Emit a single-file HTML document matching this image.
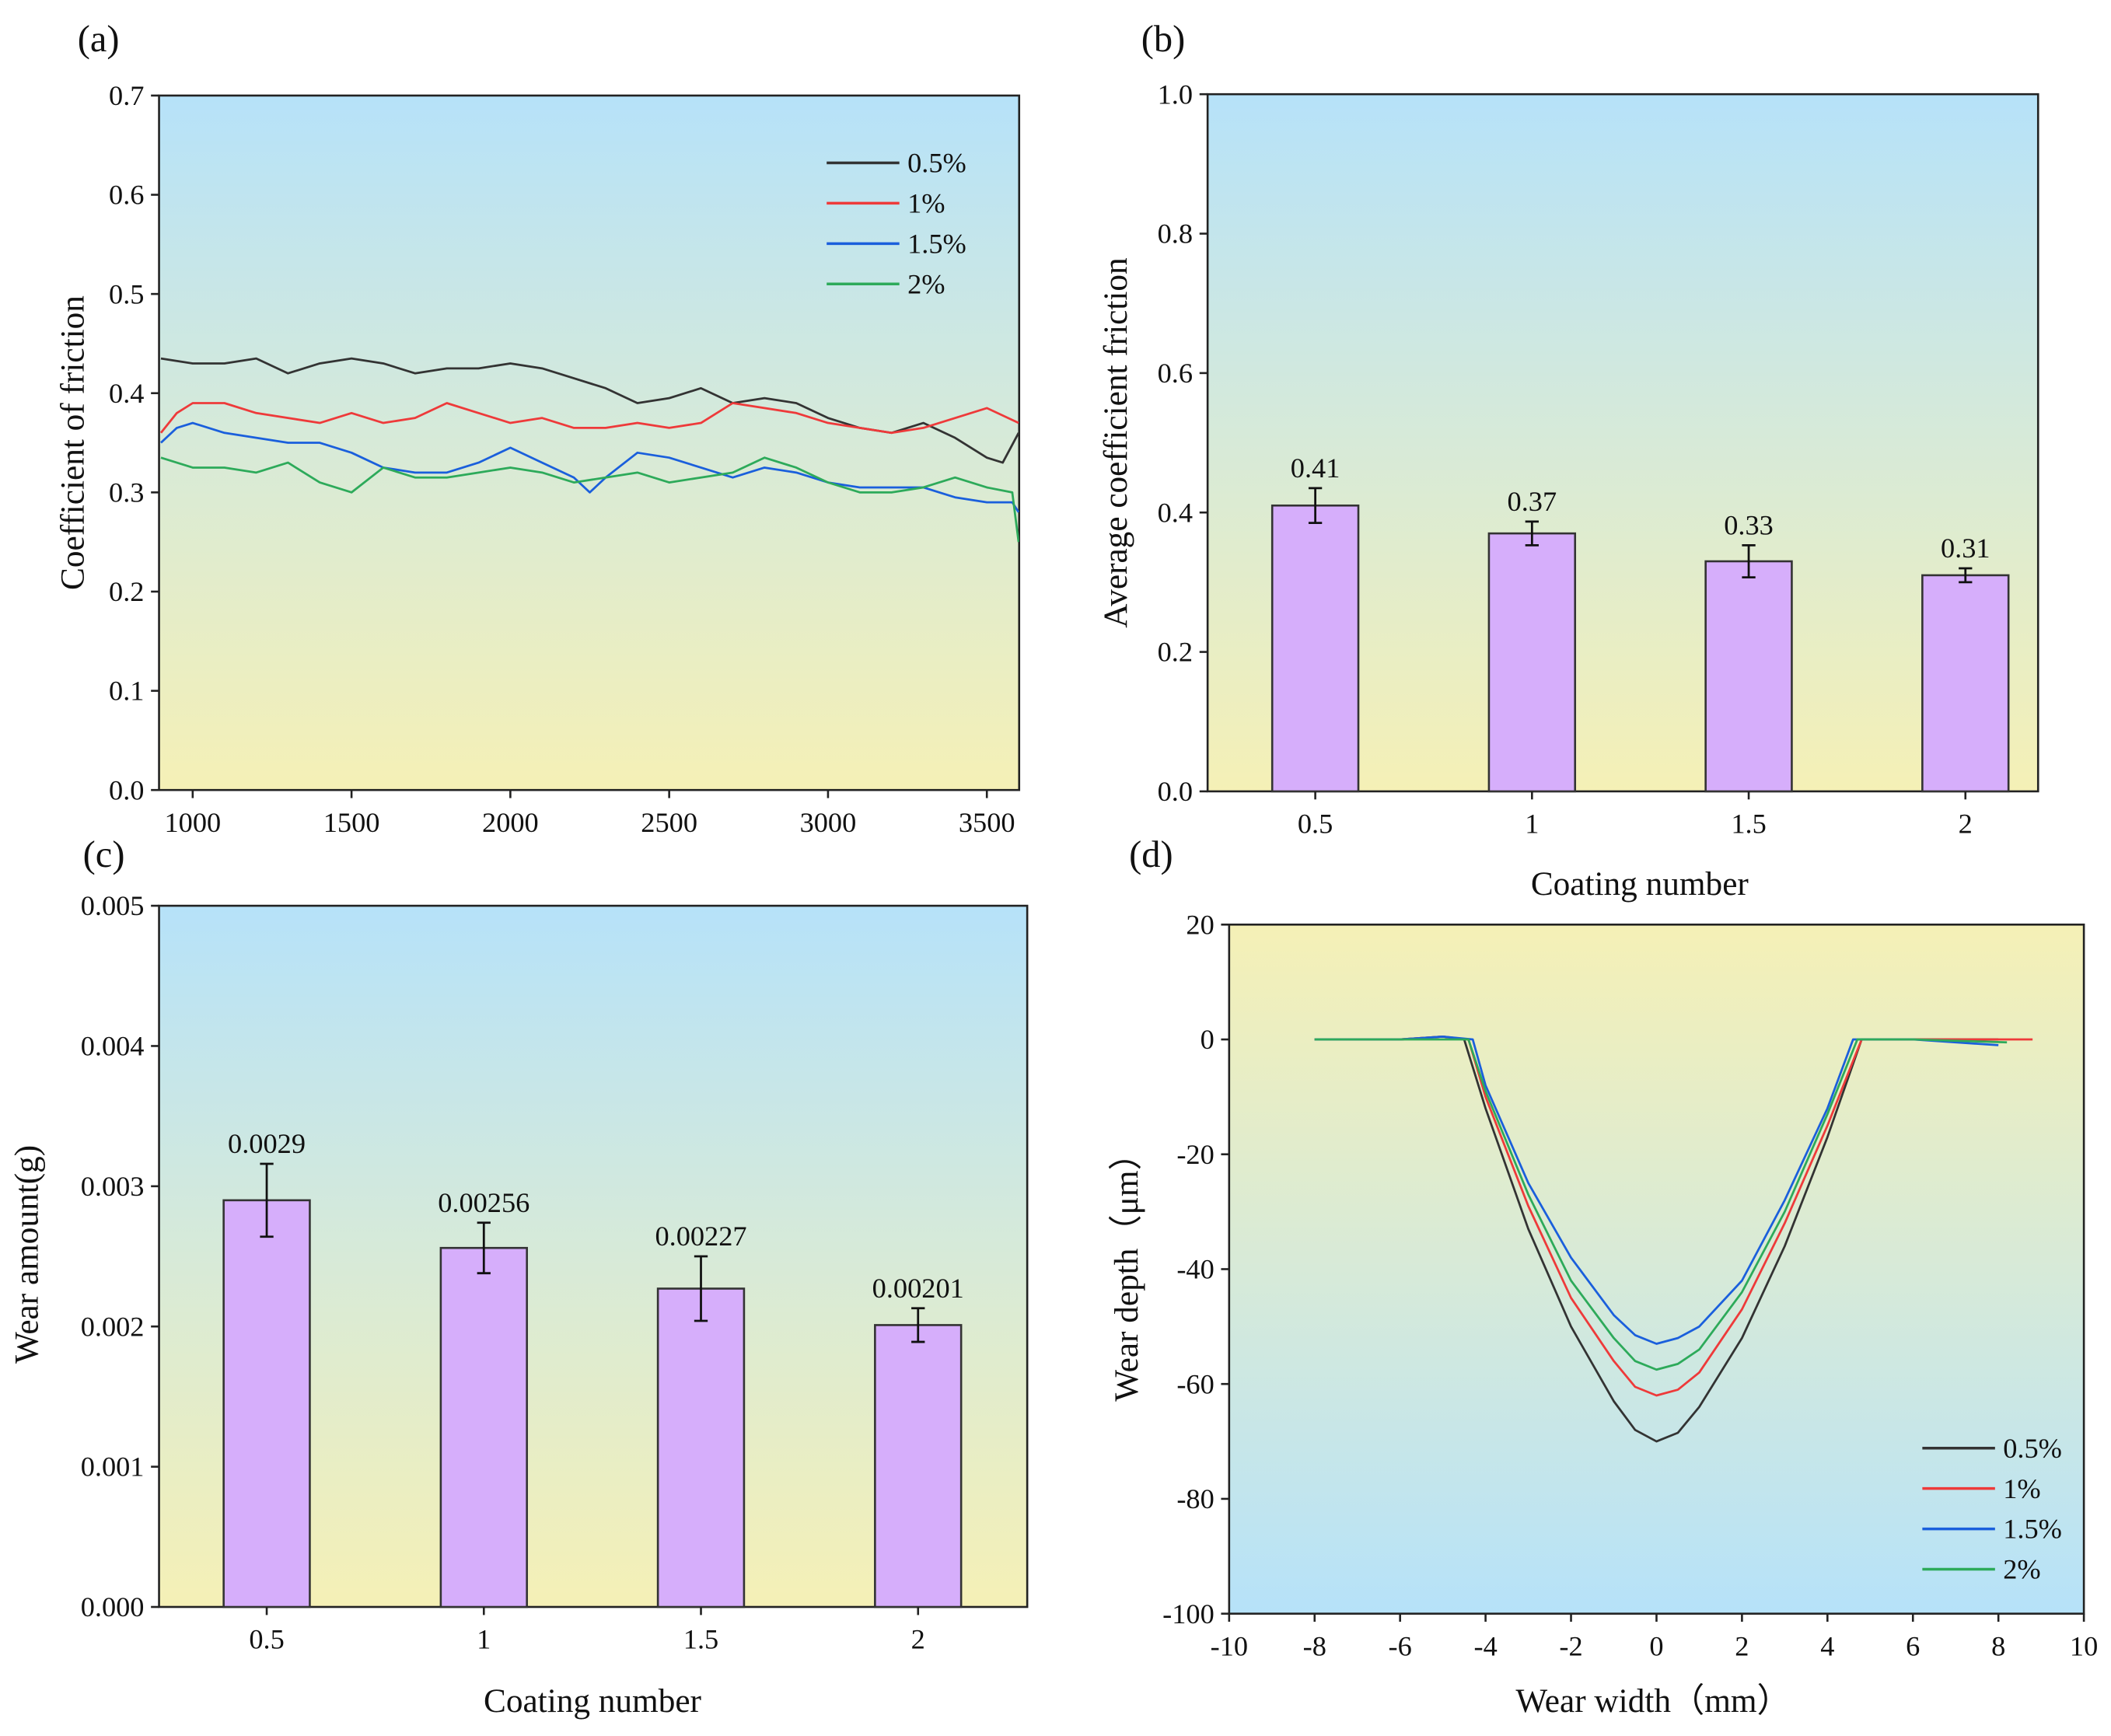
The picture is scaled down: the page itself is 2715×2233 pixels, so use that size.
<!DOCTYPE html>
<html><head><meta charset="utf-8"><style>
html,body{margin:0;padding:0;background:#fff;}
svg, svg text{font-family:"Liberation Serif","Times New Roman",serif;}
</style></head><body>
<svg id="fig" width="2715" height="2228" viewBox="0 0 1568 1287" xmlns="http://www.w3.org/2000/svg" font-family="Liberation Serif, serif">
<defs>
<linearGradient id="gBY" x1="0" y1="0" x2="0" y2="1"><stop offset="0" stop-color="#b6e2f9"/><stop offset="0.5" stop-color="#d7ead8"/><stop offset="1" stop-color="#f5f0b6"/></linearGradient>
<linearGradient id="gYB" x1="0" y1="0" x2="0" y2="1"><stop offset="0" stop-color="#f5f0b6"/><stop offset="0.5" stop-color="#d7ead8"/><stop offset="1" stop-color="#b6e2f9"/></linearGradient>
</defs>
</svg>
<script>
// ---- Panel (a) data ----
const aX_black=[900,1000,1100,1200,1300,1400,1500,1600,1700,1800,1900,2000,2100,2200,2300,2400,2500,2600,2700,2800,2900,3000,3100,3200,3300,3400,3500,3550,3600];
const aY_black=[0.435,0.43,0.43,0.435,0.42,0.43,0.435,0.43,0.42,0.425,0.425,0.43,0.425,0.415,0.405,0.39,0.395,0.405,0.39,0.395,0.39,0.375,0.365,0.36,0.37,0.355,0.335,0.33,0.36];
const aX_red=[900,950,1000,1100,1200,1300,1400,1500,1600,1700,1800,1900,2000,2100,2200,2300,2400,2500,2600,2700,2800,2900,3000,3100,3200,3300,3400,3500,3600];
const aY_red=[0.36,0.38,0.39,0.39,0.38,0.375,0.37,0.38,0.37,0.375,0.39,0.38,0.37,0.375,0.365,0.365,0.37,0.365,0.37,0.39,0.385,0.38,0.37,0.365,0.36,0.365,0.375,0.385,0.37];
const aX_blue=[900,950,1000,1100,1200,1300,1400,1500,1600,1700,1800,1900,2000,2100,2200,2250,2300,2400,2500,2600,2700,2800,2900,3000,3100,3200,3300,3400,3500,3580,3600];
const aY_blue=[0.35,0.365,0.37,0.36,0.355,0.35,0.35,0.34,0.325,0.32,0.32,0.33,0.345,0.33,0.315,0.3,0.315,0.34,0.335,0.325,0.315,0.325,0.32,0.31,0.305,0.305,0.305,0.295,0.29,0.29,0.28];
const aX_green=[900,1000,1100,1200,1300,1400,1500,1600,1700,1800,1900,2000,2100,2200,2300,2400,2500,2600,2700,2800,2900,3000,3100,3200,3300,3400,3500,3580,3600];
const aY_green=[0.335,0.325,0.325,0.32,0.33,0.31,0.3,0.325,0.315,0.315,0.32,0.325,0.32,0.31,0.315,0.32,0.31,0.315,0.32,0.335,0.325,0.31,0.3,0.3,0.305,0.315,0.305,0.3,0.25];
const aXTicks=[1000,1500,2000,2500,3000,3500];
const aYTicks=[0,0.1,0.2,0.3,0.4,0.5,0.6,0.7];
const legendLabels=["0.5%","1%","1.5%","2%"];
// ---- Panel (b) data ----
const bCats=["0.5","1","1.5","2"];
const bVals=[0.41,0.37,0.33,0.31];
const bErr=[0.025,0.017,0.023,0.01];
const bLabels=["0.41","0.37","0.33","0.31"];
const bYTicks=[0,0.2,0.4,0.6,0.8,1.0];
// ---- Panel (c) data ----
const cCats=["0.5","1","1.5","2"];
const cVals=[0.0029,0.00256,0.00227,0.00201];
const cErr=[0.00026,0.00018,0.00023,0.00012];
const cLabels=["0.0029","0.00256","0.00227","0.00201"];
const cYTicks=[0,0.001,0.002,0.003,0.004,0.005];
// ---- Panel (d) data ----
const dX_black=[-8,-6,-5,-4.5,-4,-3,-2,-1,-0.5,0,0.5,1,2,3,4,4.8,6,8];
const dY_black=[0,0,0.5,0,-12,-33,-50,-63,-68,-70,-68.5,-64,-52,-36,-17,0,0,0];
const dX_red=[-8,-6,-5,-4.4,-4,-3,-2,-1,-0.5,0,0.5,1,2,3,4,4.8,6,8.8];
const dY_red=[0,0,0.5,0,-10,-29,-45,-56,-60.5,-62,-61,-58,-47,-32,-15,0,0,0];
const dX_blue=[-8,-6,-5,-4.3,-4,-3,-2,-1,-0.5,0,0.5,1,2,3,4,4.6,6,8];
const dY_blue=[0,0,0.5,0,-8,-25,-38,-48,-51.5,-53,-52,-50,-42,-28,-12,0,0,-1];
const dX_green=[-8,-6,-4.4,-4,-3,-2,-1,-0.5,0,0.5,1,2,3,4,4.7,6,8.2];
const dY_green=[0,0,0,-9,-27,-42,-52,-56,-57.5,-56.5,-54,-44,-30,-13,0,0,-0.5];
const dXTicks=[-10,-8,-6,-4,-2,0,2,4,6,8,10];
const dYTicks=[20,0,-20,-40,-60,-80,-100];

const NS="http://www.w3.org/2000/svg";
const svg=document.getElementById('fig');
const COLORS=["#333333","#ee3a3a","#1a5fdc","#2daa5a"];
function mk(tag,attrs,parent){const e=document.createElementNS(NS,tag);for(const k in attrs)e.setAttribute(k,attrs[k]);(parent||svg).appendChild(e);return e;}
function txt(s,x,y,size,anchor,parent,rot){const t=mk('text',{x:x,y:y,'font-size':size,'text-anchor':anchor||'middle',fill:'#111','font-family':'Liberation Serif, Times New Roman, serif'},parent);if(rot)t.setAttribute('transform','rotate(-90 '+x+' '+y+')');t.textContent=s;return t;}
function lin(d0,d1,r0,r1){return v=>r0+(v-d0)*(r1-r0)/(d1-d0);}

function frame(g,x0,y0,x1,y1,grad){
  const r=mk('rect',{x:x0,y:y0,width:x1-x0,height:y1-y0,fill:'url(#'+grad+')',stroke:'#222','stroke-width':1.5},g);
  
  
}
function yAxis(g,ticks,sy,x0,fmt){
  ticks.forEach(v=>{const y=sy(v);mk('line',{x1:x0,y1:y,x2:x0-6,y2:y,stroke:'#222','stroke-width':1.5},g);
    const t=txt(fmt(v),x0-11,y+7,21,'end',g);
    
    });
}
function xAxis(g,ticks,sx,y0,fmt){
  ticks.forEach(v=>{const x=sx(v);mk('line',{x1:x,y1:y0,x2:x,y2:y0+6,stroke:'#222','stroke-width':1.5},g);
    const t=txt(fmt(v),x,y0+31,21,'middle',g);
    
    });
}
function series(g,xs,ys,sx,sy,color,name){
  const p=mk('polyline',{points:xs.map((x,i)=>sx(x)+','+sy(ys[i])).join(' '),fill:'none',stroke:color,'stroke-width':1.6,'stroke-linejoin':'round'},g);
  
  
}
function legend(g,x,y0,dy){
  legendLabels.forEach((l,i)=>{const y=y0+i*dy;
    const e=mk('g',{},g);
    
    
    mk('line',{x1:x,y1:y,x2:x+54,y2:y,stroke:COLORS[i],'stroke-width':2},e);
    txt(l,x+60,y+7,21,'start',e);});
}
function bars(g,cats,vals,err,labels,sx,sy,y0){
  cats.forEach((c,i)=>{const cx=sx(i),w=64;
    const b=mk('rect',{x:cx-w/2,y:sy(vals[i]),width:w,height:y0-sy(vals[i]),fill:'#d6aefb',stroke:'#333','stroke-width':1.5},g);
    
    
    const yt=sy(vals[i]+err[i]),yb=sy(vals[i]-err[i]);
    const eb=mk('g',{stroke:'#111','stroke-width':1.6},g);
    
    
    mk('line',{x1:cx,y1:yt,x2:cx,y2:yb},eb);
    mk('line',{x1:cx-5,y1:yt,x2:cx+5,y2:yt},eb);
    mk('line',{x1:cx-5,y1:yb,x2:cx+5,y2:yb},eb);
    const t=txt(labels[i],cx,yt-8,21,'middle',g);
    
    });
}
function group(name){const g=mk('g',{});return g;}

// Panel a
(function(){
  const g=group('panel-a');
  const X0=118,X1=757,Y0=71,Y1=587;
  frame(g,X0,Y0,X1,Y1,'gBY');
  const sx=lin(1000,3500,143,733), sy=lin(0,0.7,Y1,Y0);
  const cp=mk('clipPath',{id:'ca'},g);
  mk('rect',{x:X0,y:Y0,width:X1-X0,height:Y1-Y0},cp);
  const lg=mk('g',{'clip-path':'url(#ca)'},g);
  series(lg,aX_black,aY_black,sx,sy,COLORS[0],'series-0.5pct');
  series(lg,aX_red,aY_red,sx,sy,COLORS[1],'series-1pct');
  series(lg,aX_blue,aY_blue,sx,sy,COLORS[2],'series-1.5pct');
  series(lg,aX_green,aY_green,sx,sy,COLORS[3],'series-2pct');
  yAxis(g,aYTicks,sy,X0,v=>v.toFixed(1));
  xAxis(g,aXTicks,sx,Y1,v=>String(v));
  legend(g,614,121,30);
  const yt=txt('Coefficient of friction',62,329,25,'middle',g,true);
  
  const pl=txt('(a)',73,38,28,'middle',g);
})();
// Panel b
(function(){
  const g=group('panel-b');
  const X0=897,X1=1514,Y0=70,Y1=588;
  frame(g,X0,Y0,X1,Y1,'gBY');
  const sx=i=>977+i*161, sy=lin(0,1,Y1,Y0);
  bars(g,bCats,bVals,bErr,bLabels,sx,sy,Y1);
  yAxis(g,bYTicks,sy,X0,v=>v.toFixed(1));
  xAxis(g,[0,1,2,3],sx,Y1,i=>bCats[i]);
  const yt=txt('Average coefficient friction',837,329,25,'middle',g,true);
  
  const xt=txt('Coating number',1218,665,25,'middle',g);
  
  const pl=txt('(b)',864,38,28,'middle',g);
})();
// Panel c
(function(){
  const g=group('panel-c');
  const X0=118,X1=763,Y0=673,Y1=1194;
  frame(g,X0,Y0,X1,Y1,'gBY');
  const sx=i=>198+i*161.3, sy=lin(0,0.005,Y1,Y0);
  bars(g,cCats,cVals,cErr,cLabels,sx,sy,Y1);
  yAxis(g,cYTicks,sy,X0,v=>v.toFixed(3));
  xAxis(g,[0,1,2,3],sx,Y1,i=>cCats[i]);
  const yt=txt('Wear amount(g)',28,932,25,'middle',g,true);
  
  const xt=txt('Coating number',440,1272,25,'middle',g);
  
  const pl=txt('(c)',77,644,28,'middle',g);
})();
// Panel d
(function(){
  const g=group('panel-d');
  const X0=913,X1=1548,Y0=687,Y1=1199;
  frame(g,X0,Y0,X1,Y1,'gYB');
  const sx=lin(-10,10,X0,X1), sy=lin(20,-100,Y0,Y1);
  series(g,dX_black,dY_black,sx,sy,COLORS[0],'profile-0.5pct');
  series(g,dX_red,dY_red,sx,sy,COLORS[1],'profile-1pct');
  series(g,dX_blue,dY_blue,sx,sy,COLORS[2],'profile-1.5pct');
  series(g,dX_green,dY_green,sx,sy,COLORS[3],'profile-2pct');
  yAxis(g,dYTicks,sy,X0,v=>String(v));
  xAxis(g,dXTicks,sx,Y1,v=>String(v));
  legend(g,1428,1076,30);
  const yt=txt('Wear depth（μm）',845,943,25,'middle',g,true);
  
  const xt=txt('Wear width（mm）',1228,1272,25,'middle',g);
  
  const pl=txt('(d)',855,644,28,'middle',g);
})();
</script>
</body></html>
